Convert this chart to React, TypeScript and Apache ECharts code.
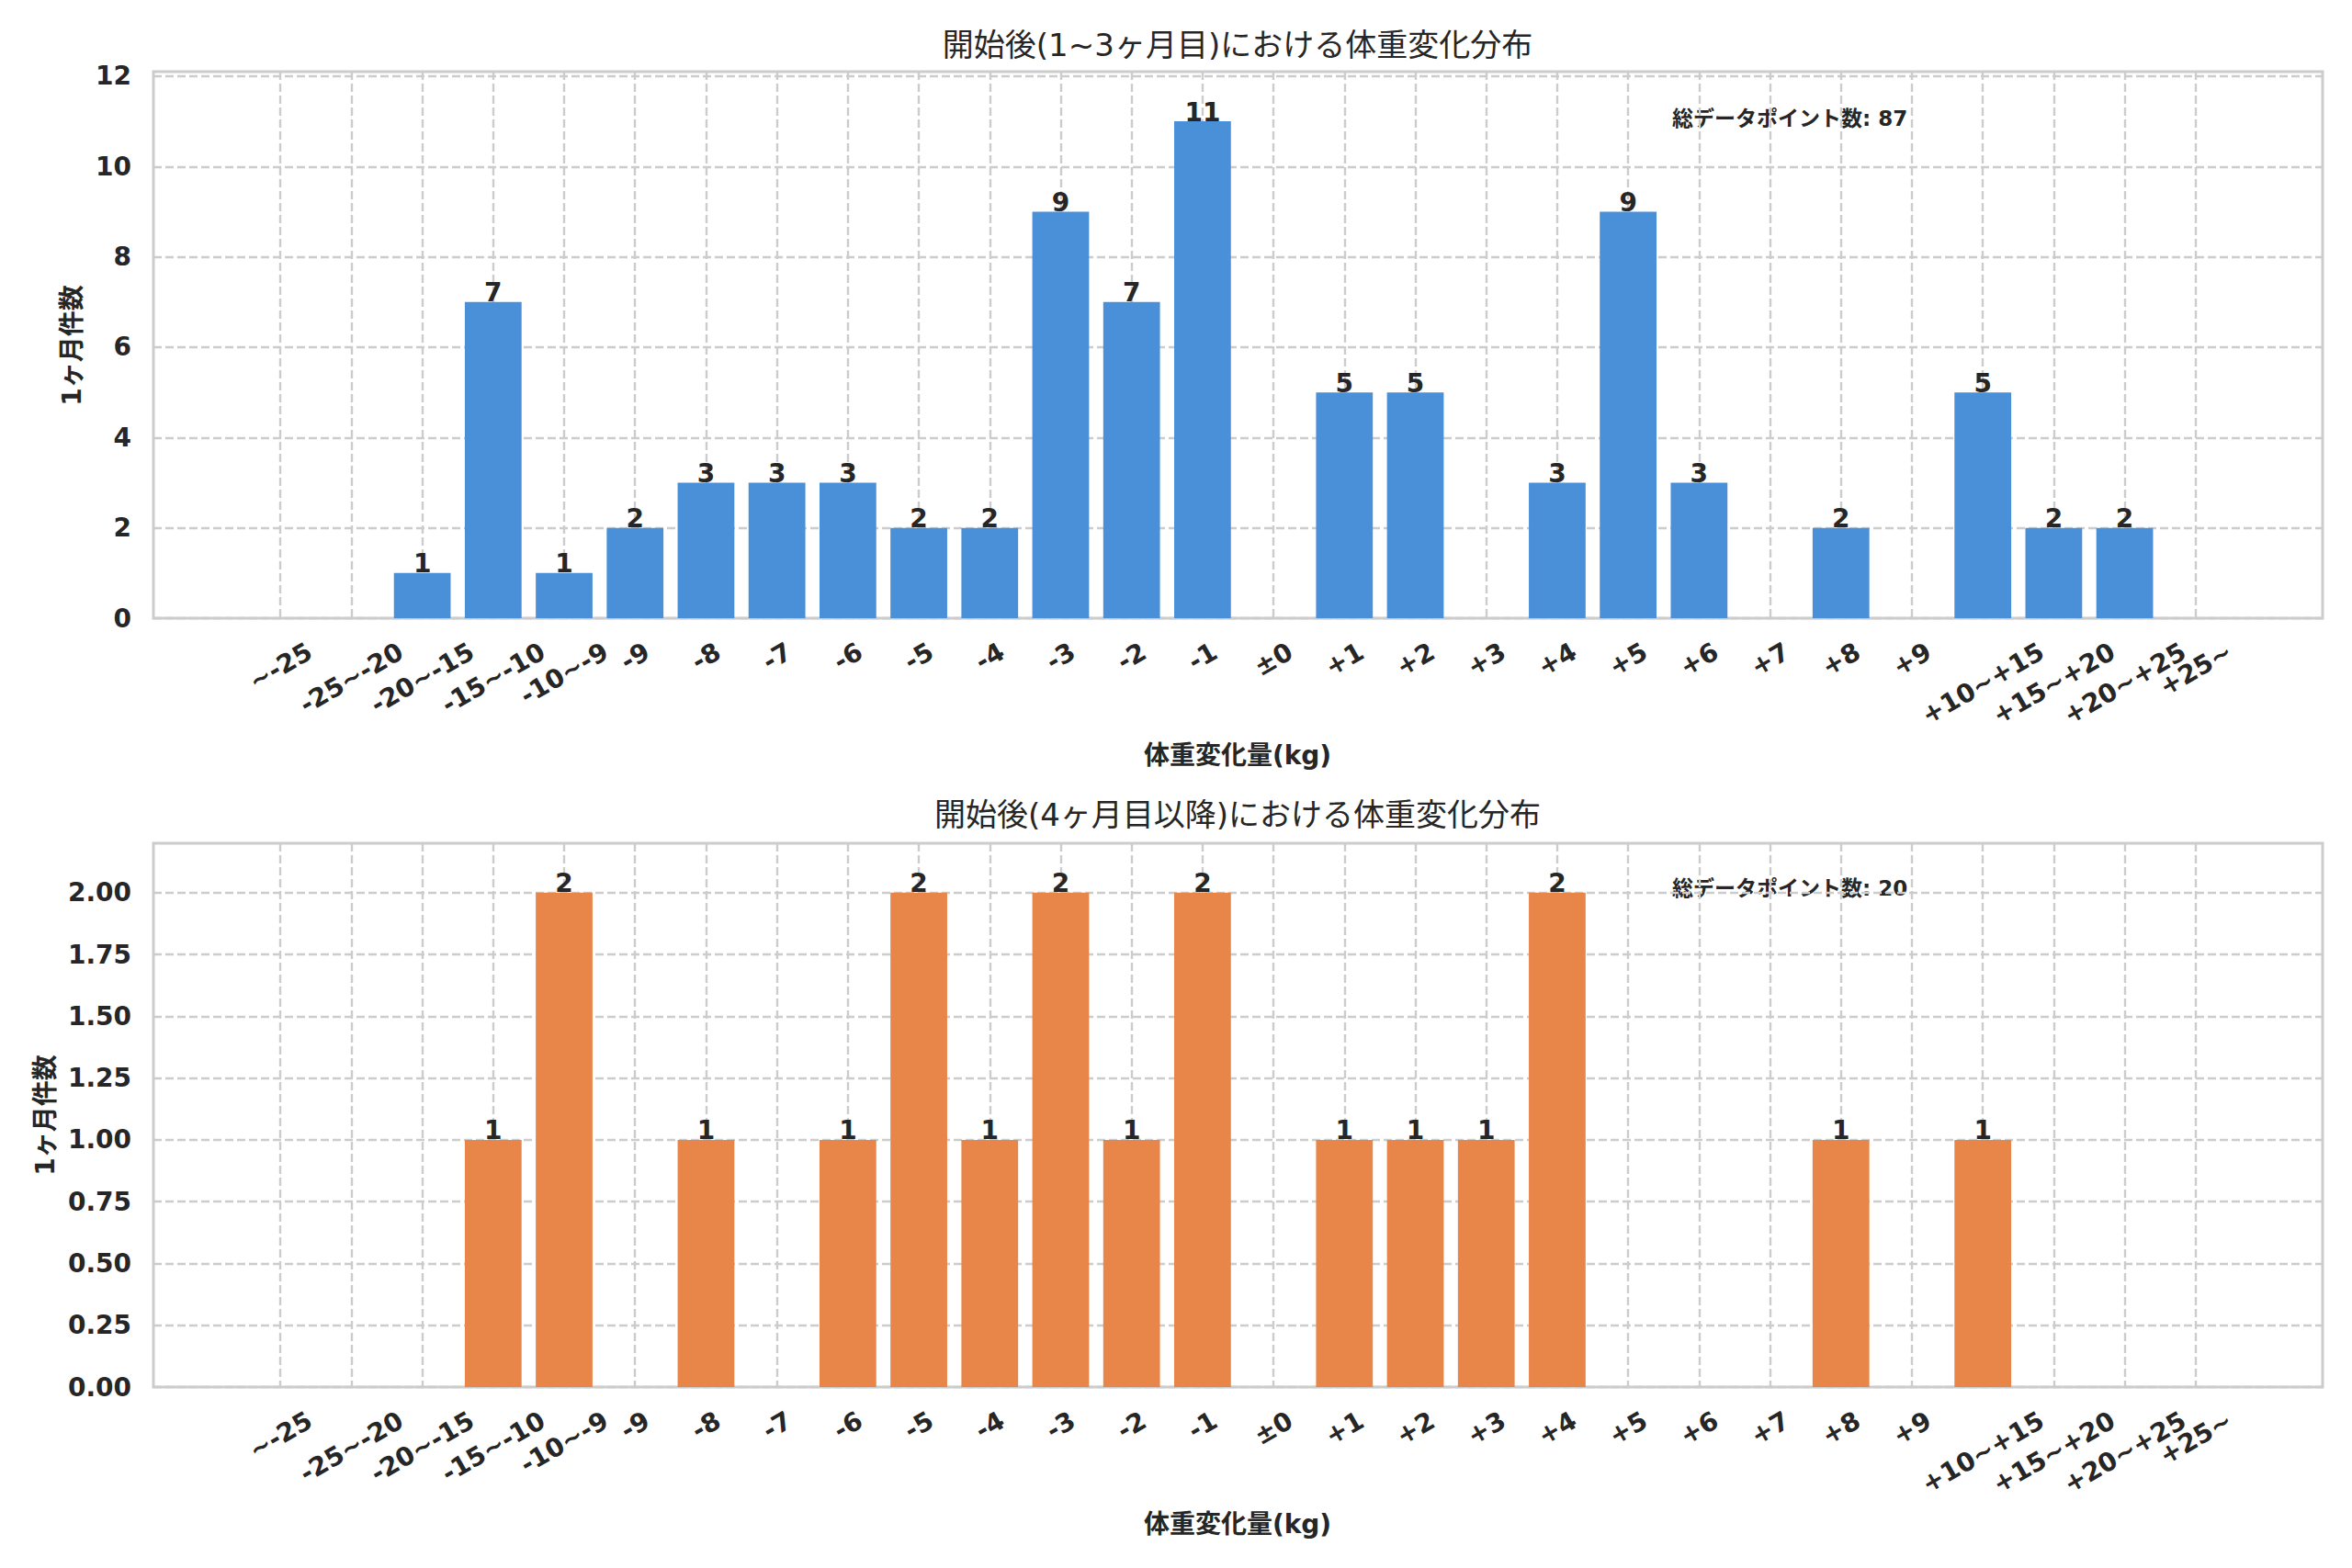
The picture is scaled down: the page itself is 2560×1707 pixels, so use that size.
import React, { useEffect, useRef } from 'react';
import * as echarts from 'echarts';

const categories = [
  '~-25', '-25~-20', '-20~-15', '-15~-10', '-10~-9', '-9', '-8', '-7', '-6', '-5', '-4', '-3', '-2', '-1',
  '±0', '+1', '+2', '+3', '+4', '+5', '+6', '+7', '+8', '+9', '+10~+15', '+15~+20', '+20~+25', '+25~',
];
const shortTermCounts = [0, 0, 1, 7, 1, 2, 3, 3, 3, 2, 2, 9, 7, 11, 0, 5, 5, 0, 3, 9, 3, 0, 2, 0, 5, 2, 2, 0];
const longTermCounts = [0, 0, 0, 1, 2, 0, 1, 0, 1, 2, 1, 2, 1, 2, 0, 1, 1, 1, 2, 0, 0, 0, 1, 0, 1, 0, 0, 0];
const topYTicks = [0, 2, 4, 6, 8, 10, 12];
const bottomYTicks = [0, 0.25, 0.5, 0.75, 1.0, 1.25, 1.5, 1.75, 2.0];

const topTitle = '開始後(1~3ヶ月目)における体重変化分布';
const bottomTitle = '開始後(4ヶ月目以降)における体重変化分布';
const xName = '体重変化量(kg)';
const yName = '1ヶ月件数';
const totalLabel = '総データポイント数';

const TEXT = '#262626';
const GRIDC = '#cccccc';
const LATIN = '"DejaVu Sans", "Noto Sans CJK JP", sans-serif';
const FS = 28;

function measure(text: string): number {
  const c = document.createElement('canvas');
  const ctx = c.getContext('2d');
  if (!ctx) return text.length * FS * 0.7;
  ctx.font = `bold ${FS}px "DejaVu Sans"`;
  return ctx.measureText(text).width;
}

export default function App() {
  const ref = useRef<HTMLDivElement>(null);

  useEffect(() => {
    if (!ref.current) return;
    const chart = echarts.init(ref.current, undefined, { renderer: 'svg' });
    const n = categories.length;
    const idx = categories.map((_, i) => i);
    const span = n - 1 + 0.8;
    const xMin = -0.4 - 0.05 * span;
    const xMax = n - 1 + 0.4 + 0.05 * span;
    const topMax = Math.max(...shortTermCounts) * 1.1;
    const bottomMax = Math.max(...longTermCounts) * 1.1;
    // blank sentinel labels at the axis ends keep ECharts' min/max overlap check
    // from hiding the real end labels
    const labelValues = [xMin, ...idx, xMax];

    const rich: Record<string, any> = {};
    categories.forEach((c, i) => {
      const w = measure(c);
      rich['c' + i] = {
        fontSize: FS,
        fontWeight: 'bold',
        fontFamily: LATIN,
        color: TEXT,
        padding: [0.433 * w, 0.25 * w, 0, 0],
      };
    });

    const splitLine = { show: true, lineStyle: { color: GRIDC, width: 2.4, type: [9, 4] } };

    const xAxisFor = (gridIndex: number) => ({
      type: 'value',
      gridIndex,
      min: xMin,
      max: xMax,
      axisLine: { show: false },
      axisTick: { show: false, customValues: idx },
      axisLabel: {
        customValues: labelValues,
        rotate: 30,
        align: 'center',
        verticalAlign: 'middle',
        margin: 34,
        showMinLabel: true,
        showMaxLabel: true,
        hideOverlap: false,
        formatter: (v: number) => {
          const i = Math.round(v);
          if (Math.abs(v - i) > 1e-6 || categories[i] === undefined) return ' ';
          return `{c${i}|${categories[i]}}`;
        },
        rich,
      },
      splitLine,
    });

    const yAxisFor = (gridIndex: number, max: number, ticks: number[], dec: number) => ({
      type: 'value',
      gridIndex,
      min: 0,
      max,
      axisLine: { show: false },
      axisTick: { show: false, customValues: ticks },
      axisLabel: {
        customValues: ticks,
        margin: 24,
        fontSize: FS,
        fontWeight: 'bold',
        fontFamily: LATIN,
        color: TEXT,
        showMinLabel: true,
        showMaxLabel: true,
        formatter: (v: number) => v.toFixed(dec),
      },
      splitLine,
    });

    const labelStyle = {
      show: true,
      position: 'top',
      distance: -4,
      fontSize: FS,
      fontWeight: 'bold',
      fontFamily: LATIN,
      color: TEXT,
      formatter: (p: any) => (p.value[1] > 0 ? String(p.value[1]) : ''),
    };

    const sum = (a: number[]) => a.reduce((s, v) => s + v, 0);

    const textEl = (text: string, x: number, y: number, size: number, weight: string, rot = 0) => ({
      type: 'text',
      x,
      y,
      rotation: rot,
      style: {
        text,
        fill: TEXT,
        font: `${weight} ${size}px ${LATIN}`,
        align: 'center',
        verticalAlign: 'middle',
      },
    });

    chart.setOption({
      animation: false,
      backgroundColor: '#ffffff',
      grid: [
        { left: 167, right: 32, top: 78, height: 595, show: true, borderColor: GRIDC, borderWidth: 3, backgroundColor: 'transparent', outerBoundsMode: 'none' },
        { left: 167, right: 32, top: 918, height: 592, show: true, borderColor: GRIDC, borderWidth: 3, backgroundColor: 'transparent', outerBoundsMode: 'none' },
      ],
      xAxis: [xAxisFor(0), xAxisFor(1)],
      yAxis: [yAxisFor(0, topMax, topYTicks, 0), yAxisFor(1, bottomMax, bottomYTicks, 2)],
      series: [
        {
          type: 'bar',
          xAxisIndex: 0,
          yAxisIndex: 0,
          data: shortTermCounts.map((v, i) => [i, v]),
          barWidth: '80%',
          itemStyle: { color: '#4a90d9' },
          label: labelStyle,
        },
        {
          type: 'bar',
          xAxisIndex: 1,
          yAxisIndex: 1,
          data: longTermCounts.map((v, i) => [i, v]),
          barWidth: '80%',
          itemStyle: { color: '#e8864a' },
          label: labelStyle,
        },
      ],
      graphic: [
        textEl(topTitle, 1347, 49, 34, 'normal'),
        textEl(bottomTitle, 1347, 887, 34, 'normal'),
        textEl(xName, 1347, 822, FS, 'bold'),
        textEl(xName, 1347, 1659, FS, 'bold'),
        textEl(yName, 78, 376, FS, 'bold', Math.PI / 2),
        textEl(yName, 49, 1214, FS, 'bold', Math.PI / 2),
        {
          type: 'text',
          x: 1820,
          y: 129,
          style: { text: `${totalLabel}: ${sum(shortTermCounts)}`, fill: TEXT, font: `bold 23px ${LATIN}`, align: 'left', verticalAlign: 'middle' },
        },
        {
          type: 'text',
          x: 1820,
          y: 967,
          style: { text: `${totalLabel}: ${sum(longTermCounts)}`, fill: TEXT, font: `bold 23px ${LATIN}`, align: 'left', verticalAlign: 'middle' },
        },
      ],
    });

    return () => chart.dispose();
  }, []);

  return <div ref={ref} style={{ position: 'absolute', left: 0, top: 0, width: 2560, height: 1707 }} />;
}
